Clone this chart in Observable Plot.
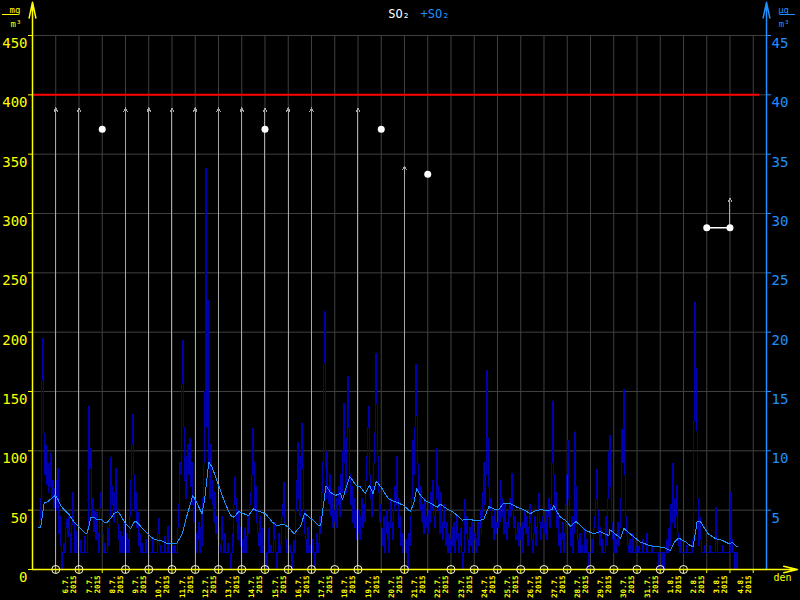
<!DOCTYPE html>
<html><head><meta charset="utf-8">
<script src="https://cdn.jsdelivr.net/npm/d3@7"></script>
<script src="https://cdn.jsdelivr.net/npm/@observablehq/plot@0.6"></script>
<style>
html,body{margin:0;padding:0;background:#000;}
#chart{width:800px;height:600px;overflow:hidden;}
</style></head><body><div id="chart"></div>
<script>
// ---- data (values in µg/m³, right axis; left axis shows ×10) ----
const startHour = 6; // first hourly value: 5.7.2015 06:00
const so2Hourly = [
  /* 5.7. */ 3.5,4.2,6.0,15.9,19.5,11.5,8.0,10.5,7.2,9.0,6.5,8.3,7.0,9.8,6.0,7.5,5.2,6.8,
  /* 6.7. */ 7.5,5.0,8.5,3.0,4.5,2.0,0,1.4,2.2,1.4,3.5,4.2,2.8,4.5,3.0,1.4,3.8,6.5,4.0,1.4,3.2,1.4,1.4,2.0,
  /* 7.7. */ 1.4,1.4,2.5,1.4,1.4,1.4,2.8,1.4,1.4,3.5,13.7,8.5,10.2,4.5,6.0,3.2,5.0,2.5,4.8,3.0,1.4,5.2,6.5,3.0,
  /* 8.7. */ 3.0,1.4,2.2,1.4,1.4,3.5,2.0,4.5,6.8,9.5,7.0,5.5,4.0,6.5,8.5,5.0,3.8,2.5,1.4,3.2,1.4,2.8,4.0,1.4,
  /* 9.7. */ 1.4,3.0,2.5,1.4,4.5,7.5,10.5,13.1,8.0,5.0,6.5,3.5,4.8,2.0,3.0,1.4,1.4,2.2,1.4,1.4,1.4,2.5,1.4,1.4,
  /* 10.7. */ 0,1.4,1.4,1.4,2.5,1.4,1.4,1.4,1.4,3.0,4.3,2.0,1.4,1.4,1.4,1.4,2.8,1.4,1.4,3.6,1.4,1.4,1.4,2.0,
  /* 11.7. */ 1.4,1.4,1.4,2.0,1.4,1.4,3.5,5.5,9.0,8.0,15.7,19.3,12.0,7.5,6.0,9.5,10.5,8.0,11.0,7.0,9.0,5.5,4.0,6.0,
  /* 12.7. */ 3.0,1.4,2.5,4.0,1.4,3.5,5.0,2.0,6.0,9.0,15.0,33.8,12.0,22.7,9.0,6.0,10.5,7.5,5.5,4.0,6.5,3.0,4.5,2.5,
  /* 13.7. */ 3.5,2.0,1.4,4.5,2.5,1.4,3.0,1.4,1.4,2.2,1.4,1.4,0,1.4,3.0,2.0,5.5,7.8,6.0,4.0,2.5,5.0,3.5,2.0,
  /* 14.7. */ 1.4,2.5,1.4,3.5,1.4,2.8,4.5,3.0,5.5,6.5,8.0,11.9,9.0,5.0,7.0,4.0,3.0,2.0,4.5,1.4,3.5,1.4,2.0,1.4,
  /* 15.7. */ 2.5,1.4,0,1.4,3.5,1.4,2.0,1.4,1.4,4.0,2.5,1.4,0,1.4,3.0,1.4,2.0,4.5,5.5,7.3,4.0,2.5,1.4,3.0,
  /* 16.7. */ 1.4,2.0,1.4,0,1.4,2.5,1.4,3.5,5.0,7.5,10.7,6.0,4.5,9.5,12.3,8.5,5.0,3.0,2.5,1.4,3.5,1.4,2.0,1.4,
  /* 17.7. */ 1.4,2.5,1.4,0,1.4,3.0,1.4,2.2,4.5,3.0,6.5,9.0,17.4,21.7,8.5,6.0,10.0,7.0,5.5,8.0,4.5,6.5,3.5,5.0,
  /* 18.7. */ 4.0,6.0,3.5,5.5,7.0,4.5,8.0,6.5,10.0,14.0,9.0,6.5,11.0,16.3,12.0,8.0,5.5,7.0,4.0,6.0,3.5,5.0,2.5,4.5,
  /* 19.7. */ 3.0,5.0,2.5,4.5,6.0,3.5,5.5,4.0,7.5,9.5,12.0,13.7,8.0,6.0,4.5,7.0,9.0,11.5,18.2,14.0,9.5,6.5,4.0,5.5,
  /* 20.7. */ 3.5,2.0,4.5,1.4,3.0,5.0,2.5,4.0,1.4,3.5,6.0,4.0,2.5,5.0,7.0,5.5,9.5,6.0,3.5,4.5,2.0,3.0,1.4,2.5,
  /* 21.7. */ 1.4,2.5,1.4,0,3.0,2.0,4.5,6.0,10.9,8.0,12.0,17.3,13.0,9.0,6.5,8.0,5.0,7.0,4.0,5.5,3.0,6.0,3.5,4.5,
  /* 22.7. */ 3.0,5.0,4.0,6.5,5.0,7.5,4.5,3.5,6.0,10.2,7.0,5.0,3.0,6.5,4.0,2.5,5.5,3.5,2.0,4.0,1.4,3.0,1.4,2.5,
  /* 23.7. */ 1.4,3.5,2.0,4.0,1.4,2.5,4.5,3.0,1.4,2.0,3.5,1.4,0,1.4,5.9,3.0,4.5,2.5,1.4,3.5,2.0,4.0,1.4,2.5,
  /* 24.7. */ 3.0,1.4,2.5,4.0,2.0,3.5,5.0,3.0,4.5,6.5,9.0,5.5,8.0,16.8,11.0,7.0,5.0,6.0,3.5,4.5,2.5,5.0,3.0,4.0,
  /* 25.7. */ 3.5,5.0,4.0,7.5,6.0,4.5,3.0,5.5,4.0,2.5,3.5,5.0,6.0,4.5,8.1,6.5,5.0,3.5,4.5,2.5,3.0,4.0,2.0,3.5,
  /* 26.7. */ 2.5,4.0,1.4,3.5,5.0,3.0,4.5,2.0,3.5,5.5,4.0,2.5,1.4,3.0,4.5,2.0,3.5,5.0,6.4,4.0,2.5,3.5,4.5,3.0,
  /* 27.7. */ 4.0,3.0,5.0,2.5,4.5,6.0,3.5,5.5,9.0,14.2,8.0,5.0,6.5,3.5,4.5,2.0,3.0,1.4,2.5,4.0,1.4,3.0,5.5,8.0,
  /* 28.7. */ 10.9,6.0,3.5,2.0,4.5,1.4,3.0,6.5,11.6,7.0,4.0,2.5,1.4,3.0,1.4,2.0,1.4,1.4,3.5,1.4,2.5,1.4,0,1.4,
  /* 29.7. */ 1.4,2.5,1.4,3.5,4.5,6.0,8.4,5.0,3.0,2.0,3.5,1.4,2.5,1.4,1.4,3.0,4.5,2.0,6.0,10.0,11.3,7.0,4.0,2.5,
  /* 30.7. */ 1.4,3.0,1.4,2.5,4.0,2.0,3.5,6.0,11.8,9.0,15.2,8.0,4.5,3.0,2.0,1.4,2.5,1.4,1.4,3.0,1.4,1.4,2.0,1.4,
  /* 31.7. */ 1.4,1.4,2.0,1.4,1.4,1.4,2.5,1.4,1.4,1.4,3.0,1.4,1.4,1.4,1.4,2.0,1.4,1.4,1.4,1.4,1.4,1.4,0,1.4,
  /* 1.8. */ 1.4,0,1.4,0,1.4,1.4,2.5,1.4,1.4,3.5,2.0,5.5,4.0,8.9,6.0,3.5,4.5,7.1,3.0,2.0,1.4,2.5,1.4,1.4,
  /* 2.8. */ 1.4,1.4,1.4,2.0,1.4,1.4,1.4,1.4,1.4,2.5,12.5,22.5,17.0,11.7,6.0,3.5,2.0,4.4,2.5,1.4,1.4,1.4,2.0,1.4,
  /* 3.8. */ 1.4,1.4,1.4,2.0,1.4,1.4,1.4,1.4,1.4,5.2,2.5,1.4,1.4,1.4,1.4,1.4,2.0,1.4,1.4,1.4,1.4,1.4,1.4,1.4,
  /* 4.8. */ 1.4,6.5,2.5,1.4,1.4,0,1.4,0,1.4
];
// running average (hours since 5.7.2015 00:00)
const avgHours = [6,8.5,12,15.5,19,23.5,26,29,33,38,43,48,53,56,58.5,60,64,67,70.5,74,77.5,81,84,88,91,96,101.5,105,107,112,117,122,127,132,139,149,154.5,160,165.5,170,175,177.5,182,185.5,189,194,199,204.5,208,213,218,223,228,232,240.5,247.5,252.5,259.5,264.5,270,273,276.5,281,283.5,290.5,295.5,297.5,303,307.5,313,318,320,324,327.5,333.5,338.5,343.5,348,351.5,355,361,367,371,376.5,383,387,390,393.5,396.5,400.5,405.5,412.5,418,421,428,433,438.5,443.5,449,455.5,462.5,466,471,476,481,486.5,493.5,500,507,514,519,524.5,531,536.5,538,541.5,545,550,555.5,561,571,579.5,586,595,596,607,610.5,617,627.5,638,651.5,658.5,662.5,667,674,679,682,686,689.5,693,697.5,705,712,719.5,722.5,727.5];
const avgValues = [3.5,3.55,5.6,5.7,5.95,6.25,5.95,5.4,5.0,4.6,4.0,3.6,3.15,3.0,3.7,4.35,4.35,4.2,4.25,4.0,4.0,4.35,4.7,4.9,4.55,3.85,3.45,4.0,4.05,3.6,3.15,2.75,2.5,2.45,2.2,2.2,3.0,4.7,6.25,5.55,4.7,5.8,9.05,8.6,7.8,6.65,5.55,4.55,4.4,4.9,4.7,4.55,5.1,4.95,4.7,4.0,3.7,3.8,3.55,3.0,3.3,3.6,4.75,4.55,4.1,3.7,3.7,7.05,6.5,6.25,6.4,5.9,6.95,7.85,7.15,6.95,6.4,7.1,6.4,7.45,6.8,6.0,5.8,5.65,5.4,5.1,4.9,5.55,6.8,6.25,5.8,5.5,5.25,5.5,5.1,4.9,4.55,4.15,4.25,4.15,4.15,4.25,5.3,5.1,5.05,5.6,5.55,5.25,5.05,4.7,4.95,5.05,4.95,5.05,5.4,4.85,4.4,4.15,3.65,4.05,3.3,3.0,3.2,2.85,3.35,2.65,3.45,3.0,2.3,2.0,1.85,1.6,2.3,2.65,2.35,2.0,1.95,4.0,4.05,3.55,3.0,2.6,2.45,2.15,2.3,1.9];
const yTicks = [0,5,10,15,20,25,30,35,40,45];
const limitValue = 40;
// day markers (days after 5.7.2015)
const arrowDays = [1,2,4,5,6,7,8,9,10,11,12,14,16,30];
const arrowFrom = [0,0,0,0,0,0,0,0,0,0,0,0,0,28.8];
const arrowTo   = [38.9,38.9,38.9,38.9,38.9,38.9,38.9,38.9,38.9,38.9,38.9,38.9,34.0,31.3];
const dotDays   = [3,10,15,17,29,30];
const dotValues = [37.1,37.1,37.1,33.3,28.8,28.8];
const dotGroups = [0,1,2,3,4,4];
const circleDays = [1,2,4,5,6,7,8,9,10,11,12,13,14,16,18,19,20,21,22,23,24,25,26,27,28];
const titleParts = ["SO₂", "+SO₂"];
const axisUnits = ["mg", "m³", "µg", "m³"];
const xLabel = "den";

// ---- build ----
const t0 = Date.UTC(2015, 6, 5);
const HOUR = 3600e3, DAY = 864e5;
const hourDate = h => new Date(t0 + h * HOUR);
const dayDate = k => new Date(t0 + k * DAY);
const xSpanDays = 31.57, xArrowDays = 32.9, yArrowTop = 47.8;

const hourly = so2Hourly.map((v, i) => ({t: hourDate(startHour + i), v}));
const avg = avgHours.map((h, i) => ({t: hourDate(h), v: avgValues[i]}));
const arrows = arrowDays.map((k, i) => ({t: dayDate(k), from: arrowFrom[i], to: arrowTo[i]}));
const dots = dotDays.map((k, i) => ({t: dayDate(k), v: dotValues[i], g: dotGroups[i]}));
const midnights = d3.range(1, 32).map(dayDate);
const fmt = d3.utcFormat("%-d.%-m.");
const dayLabels = d3.range(1, 31).map(k => ({t: new Date(t0 + k * DAY + 12 * HOUR), label: fmt(dayDate(k)) + "\n2015"}));

const mono = "DejaVu Sans Mono";
const YEL = "#ffff00", BLUE = "#1e90ff", GRID = "#404040";

const chart = Plot.plot({
  width: 800, height: 600,
  marginLeft: 32, marginRight: 34, marginTop: 35, marginBottom: 31,
  style: {background: "#000", fontFamily: mono, color: YEL},
  x: {type: "utc", domain: [dayDate(0), new Date(t0 + xSpanDays * DAY)], axis: null},
  y: {domain: [0, 45], axis: null},
  marks: [
    Plot.gridY(yTicks.filter(d => d > 0), {stroke: GRID, strokeOpacity: 1}),
    Plot.gridX(midnights, {stroke: GRID, strokeOpacity: 1}),
    Plot.ruleY([limitValue], {stroke: "#ff0000", strokeWidth: 2, insetRight: 7}),
    Plot.line(hourly, {x: "t", y: "v", curve: "step-after", stroke: "#0000b0", strokeWidth: 1, shapeRendering: "crispEdges"}),
    Plot.arrow(arrows, {x1: "t", x2: "t", y1: "from", y2: "to", stroke: "#a8a8a8", strokeWidth: 1, headLength: 6, headAngle: 50, shapeRendering: "crispEdges"}),
    Plot.line(avg, {x: "t", y: "v", stroke: BLUE, strokeWidth: 1, shapeRendering: "crispEdges"}),
    Plot.line(dots, {x: "t", y: "v", z: "g", stroke: "#fff", strokeWidth: 1.5}),
    Plot.dot(dots, {x: "t", y: "v", r: 3.5, fill: "#fff"}),
    // axes
    Plot.arrow([0], {x1: () => dayDate(0), x2: () => dayDate(0), y1: () => 0, y2: () => yArrowTop, stroke: YEL, headLength: 16, headAngle: 24}),
    Plot.arrow([0], {x1: () => new Date(t0 + xSpanDays * DAY), x2: () => new Date(t0 + xSpanDays * DAY), y1: () => 0, y2: () => yArrowTop, stroke: BLUE, headLength: 16, headAngle: 24}),
    Plot.arrow([0], {x1: () => dayDate(0), x2: () => new Date(t0 + xArrowDays * DAY), y1: () => 0, y2: () => 0, stroke: YEL, headLength: 14, headAngle: 26}),
    Plot.axisY(yTicks, {anchor: "left", tickSize: 4, stroke: YEL, fill: "none", label: null}),
    Plot.axisY(yTicks, {anchor: "left", tickSize: 4, tickPadding: 1, stroke: "none", fill: YEL, dy: 8, fontSize: 14, fontFamily: mono, tickFormat: d => String(d * 10), label: null}),
    Plot.axisY(yTicks.filter(d => d > 0), {anchor: "right", tickSize: 4, stroke: BLUE, fill: "none", label: null}),
    Plot.axisY(yTicks.filter(d => d > 0), {anchor: "right", tickSize: 4, tickPadding: 1, stroke: "none", fill: BLUE, dy: 8, fontSize: 14, fontFamily: mono, label: null}),
    Plot.axisX(midnights, {tickSize: 4, stroke: YEL, fill: "none", label: null}),
    Plot.dot(circleDays, {x: k => dayDate(k), y: 0, r: 4, stroke: "#ffffd0", fill: "none", strokeWidth: 1}),
    Plot.text(dayLabels, {x: "t", y: 0, text: "label", rotate: -90, textAnchor: "end", lineAnchor: "top", lineHeight: 1.05, dx: -4.5, dy: 6, fill: YEL, fontSize: 7.5, fontWeight: "bold", fontFamily: mono}),
    // titles and units
    Plot.text([titleParts[0]], {frameAnchor: "top", dx: -0.5, dy: -26, fill: "#fff", fontSize: 12, fontFamily: mono}),
    Plot.text([titleParts[1]], {frameAnchor: "top", textAnchor: "start", dx: 21, dy: -26, fill: BLUE, fontSize: 12, fontFamily: mono}),
    Plot.text([axisUnits[0]], {frameAnchor: "top-left", dx: -23, dy: -29, fill: YEL, fontSize: 9, fontFamily: mono}),
    Plot.text([axisUnits[1]], {frameAnchor: "top-left", dx: -22, dy: -15, fill: YEL, fontSize: 9, fontFamily: mono}),
    Plot.text([axisUnits[2]], {frameAnchor: "top-right", dx: 22.5, dy: -29, fill: BLUE, fontSize: 9, fontFamily: mono}),
    Plot.text([axisUnits[3]], {frameAnchor: "top-right", dx: 23, dy: -15, fill: BLUE, fontSize: 9, fontFamily: mono}),
    Plot.text([xLabel], {frameAnchor: "bottom-right", dx: 25, dy: 11, fill: YEL, fontSize: 10, fontFamily: mono})
  ]
});
document.getElementById("chart").appendChild(chart);
// unit fraction bars
const svg = d3.select(chart);
svg.append("line").attr("x1", 2).attr("x2", 17).attr("y1", 14.5).attr("y2", 14.5).attr("stroke", YEL);
svg.append("line").attr("x1", 780).attr("x2", 795).attr("y1", 14.5).attr("y2", 14.5).attr("stroke", BLUE);
</script></body></html>
